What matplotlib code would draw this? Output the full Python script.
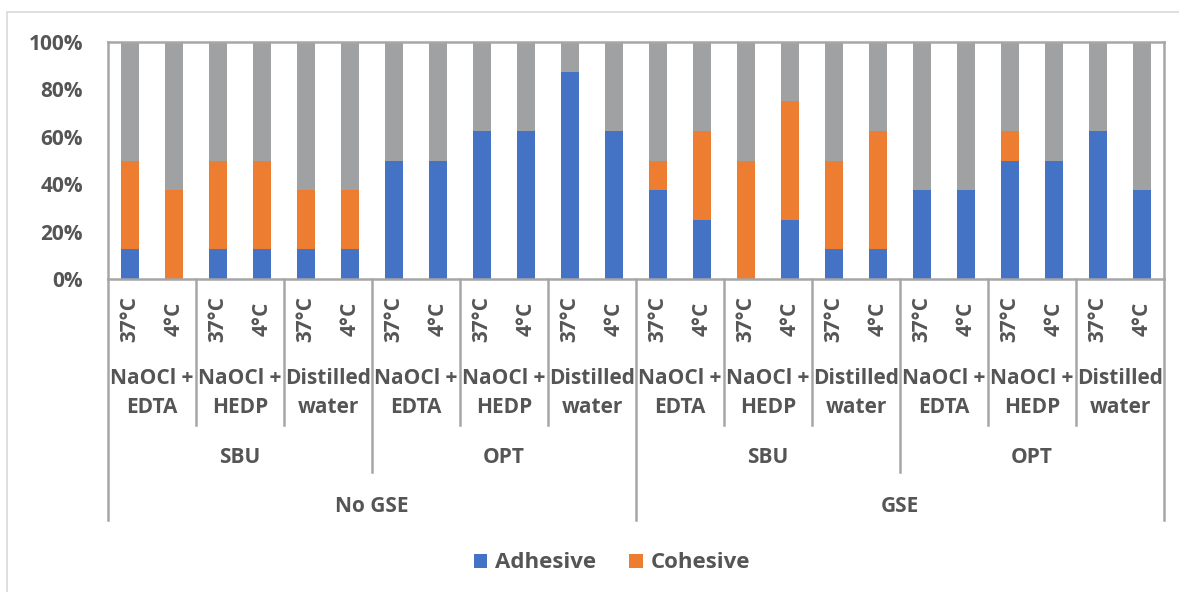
import matplotlib.pyplot as plt
from matplotlib.patches import Rectangle
import matplotlib.transforms as mtransforms

plt.rcParams['font.family'] = ['Open Sans', 'DejaVu Sans']
plt.rcParams['font.weight'] = 'bold'

# Dados (percentuais, 8 amostras por grupo)
temps = ['37°C', '4°C'] * 12
solucoes = ['NaOCl +\nEDTA', 'NaOCl +\nHEDP', 'Distilled\nwater'] * 4
adesivos = ['SBU', 'OPT', 'SBU', 'OPT']
gse = ['No GSE', 'GSE']

adhesive = [12.5, 0, 12.5, 12.5, 12.5, 12.5,
            50, 50, 62.5, 62.5, 87.5, 62.5,
            37.5, 25, 0, 25, 12.5, 12.5,
            37.5, 37.5, 50, 50, 62.5, 37.5]
cohesive = [37.5, 37.5, 37.5, 37.5, 25, 25,
            0, 0, 0, 0, 0, 0,
            12.5, 37.5, 50, 50, 37.5, 50,
            0, 0, 12.5, 0, 0, 0]
mixed = [100 - a - c for a, c in zip(adhesive, cohesive)]

azul = '#4472C4'
laranja = '#ED7D31'
cinza = '#9FA1A2'
texto = '#555555'
linha = '#A6A6A6'
fs = 15

fig = plt.figure(figsize=(11.79, 5.92), dpi=100)
ax = fig.add_axes([108/1179, 1 - 279/592, 1056/1179, 237/592])

x = list(range(len(temps)))
base2 = adhesive
base3 = [a + c for a, c in zip(adhesive, cohesive)]
b1 = ax.bar(x, adhesive, width=0.4, color=azul, label='Adhesive')
b2 = ax.bar(x, cohesive, width=0.4, bottom=base2, color=laranja, label='Cohesive')
ax.bar(x, mixed, width=0.4, bottom=base3, color=cinza)

ax.set_xlim(-0.5, len(temps) - 0.5)
ax.set_ylim(0, 100)
ax.set_yticks([0, 20, 40, 60, 80, 100])
ax.set_yticklabels([f'{v}%' for v in range(0, 101, 20)], fontsize=fs, color=texto, fontweight='bold')
ax.tick_params(axis='y', length=0, pad=18)
ax.set_xticks([])
for s in ax.spines.values():
    s.set_color(linha)
    s.set_linewidth(1.8)

trans = mtransforms.blended_transform_factory(ax.transData, ax.transAxes)

# Rótulos de temperatura
for i, t in enumerate(temps):
    ax.text(i, -0.168, t, transform=trans, rotation=90, ha='center', va='center',
            fontsize=fs, color=texto, fontweight='bold')

# Rótulos das soluções
for j, s in enumerate(solucoes):
    ax.text(j * 2 + 0.5, -0.483, s, transform=trans, ha='center', va='center',
            fontsize=fs, color=texto, fontweight='bold', linespacing=1.5)

for k, a in enumerate(adesivos):
    ax.text(k * 6 + 2.5, -0.755, a, transform=trans, ha='center', va='center',
            fontsize=fs, color=texto, fontweight='bold')

for k, g in enumerate(gse):
    ax.text(k * 12 + 5.5, -0.962, g, transform=trans, ha='center', va='center',
            fontsize=fs, color=texto, fontweight='bold')

# Linhas separadoras do eixo de categorias
for b in range(0, len(temps) + 1, 2):
    pos = b - 0.5
    if b % 12 == 0:
        fim = -1.017
    elif b % 6 == 0:
        fim = -0.814
    else:
        fim = -0.616
    ax.plot([pos, pos], [0, fim], transform=trans, color=linha, lw=1.8, clip_on=False)

# Borda da área do gráfico
fig.patches.append(Rectangle((7/1179, -0.1), 1.2, 1 - 12/592 + 0.1, transform=fig.transFigure,
                             fill=False, edgecolor='#D9D9D9', lw=1.2))

fig.legend(handles=[b1, b2], labels=['Adhesive', 'Cohesive'], loc='center',
           bbox_to_anchor=(612/1179, 1 - 563/592), ncol=2, frameon=False,
           prop={'size': 16, 'weight': 'bold'}, labelcolor=texto,
           handlelength=0.6, handleheight=0.6, handletextpad=0.35, columnspacing=1.5)

fig.savefig('out.png', dpi=100)
